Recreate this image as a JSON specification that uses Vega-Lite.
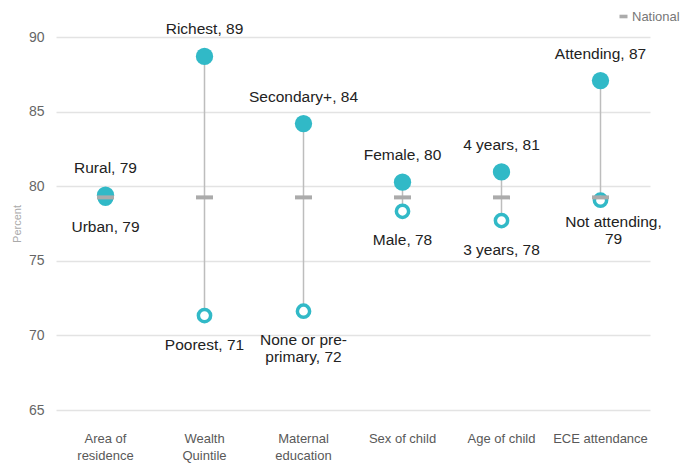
{
  "$schema": "https://vega.github.io/schema/vega-lite/v6.json",
  "width": 594,
  "height": 373,
  "autosize": {"type": "none"},
  "padding": {"left": 56, "top": 37, "right": 46, "bottom": 54},
  "background": "white",
  "config": {
    "view": {"stroke": null},
    "font": "Liberation Sans"
  },
  "datasets": {
    "groups": [
      {"cat": "Area of|residence", "label": "Rural, 79", "value": 79.4, "kind": "high"},
      {"cat": "Area of|residence", "label": "Urban, 79", "value": 79.2, "kind": "low"},
      {"cat": "Wealth|Quintile", "label": "Richest, 89", "value": 88.7, "kind": "high"},
      {"cat": "Wealth|Quintile", "label": "Poorest, 71", "value": 71.33, "kind": "low"},
      {"cat": "Maternal|education", "label": "Secondary+, 84", "value": 84.2, "kind": "high"},
      {"cat": "Maternal|education", "label": "None or pre-\nprimary, 72", "value": 71.62, "kind": "low"},
      {"cat": "Sex of child", "label": "Female, 80", "value": 80.27, "kind": "high"},
      {"cat": "Sex of child", "label": "Male, 78", "value": 78.32, "kind": "low"},
      {"cat": "Age of child", "label": "4 years, 81", "value": 80.96, "kind": "high"},
      {"cat": "Age of child", "label": "3 years, 78", "value": 77.7, "kind": "low"},
      {"cat": "ECE attendance", "label": "Attending, 87", "value": 87.08, "kind": "high"},
      {"cat": "ECE attendance", "label": "Not attending,\n79", "value": 79.06, "kind": "low2"}
    ],
    "national": [
      {"cat": "Area of|residence", "national": 79.25, "series": "National"},
      {"cat": "Wealth|Quintile", "national": 79.25, "series": "National"},
      {"cat": "Maternal|education", "national": 79.25, "series": "National"},
      {"cat": "Sex of child", "national": 79.25, "series": "National"},
      {"cat": "Age of child", "national": 79.25, "series": "National"},
      {"cat": "ECE attendance", "national": 79.25, "series": "National"}
    ]
  },
  "encoding": {
    "x": {
      "field": "cat",
      "type": "nominal",
      "sort": null,
      "scale": {"paddingInner": 0, "paddingOuter": 0},
      "axis": {
        "title": null,
        "labelAngle": 0,
        "domain": false,
        "ticks": false,
        "labelPadding": 22,
        "labelFontSize": 13,
        "labelColor": "#595959",
        "labelLineHeight": 17,
        "labelExpr": "split(datum.value, '|')"
      }
    }
  },
  "layer": [
    {
      "data": {"name": "groups"},
      "transform": [
        {"aggregate": [{"op": "min", "field": "value", "as": "lo"}, {"op": "max", "field": "value", "as": "hi"}], "groupby": ["cat"]}
      ],
      "mark": {"type": "rule", "color": "#bdbdbd", "strokeWidth": 1.5},
      "encoding": {
        "y": {
          "field": "lo",
          "type": "quantitative",
          "scale": {"domain": [65, 90], "nice": false, "zero": false},
          "axis": {
            "title": "Percent",
            "titleFontSize": 11,
            "titleColor": "#aaaaaa",
            "titleFontWeight": "normal",
            "titlePadding": 6,
            "values": [65, 70, 75, 80, 85, 90],
            "domain": false,
            "ticks": false,
            "labelPadding": 12,
            "labelFontSize": 14,
            "labelColor": "#666666",
            "gridColor": "#e3e3e3",
            "gridWidth": 1.5
          }
        },
        "y2": {"field": "hi"}
      }
    },
    {
      "data": {"name": "groups"},
      "transform": [{"filter": "datum.kind != 'high'"}],
      "mark": {"type": "point", "shape": "circle", "filled": false, "fill": "white", "stroke": "#31b9c7", "strokeWidth": 3.5, "size": 150, "opacity": 1},
      "encoding": {"y": {"field": "value", "type": "quantitative"}}
    },
    {
      "data": {"name": "groups"},
      "transform": [{"filter": "datum.kind == 'high'"}],
      "mark": {"type": "circle", "color": "#31b9c7", "size": 300, "opacity": 1},
      "encoding": {"y": {"field": "value", "type": "quantitative"}}
    },
    {
      "data": {"name": "national"},
      "mark": {"type": "tick", "size": 17, "thickness": 4, "opacity": 1},
      "encoding": {
        "y": {"field": "national", "type": "quantitative"},
        "color": {
          "field": "series",
          "type": "nominal",
          "scale": {"domain": ["National"], "range": ["#ababab"]},
          "legend": {
            "title": null,
            "orient": "none",
            "legendX": 561,
            "legendY": -27,
            "padding": 0,
            "symbolType": "M-1,-0.45h2v0.9h-2z",
            "symbolFillColor": "#ababab",
            "symbolStrokeWidth": 0,
            "symbolSize": 64,
            "symbolOpacity": 1,
            "symbolOffset": 0,
            "labelOffset": 2,
            "labelFontSize": 13,
            "labelColor": "#777777"
          }
        }
      }
    },
    {
      "data": {"name": "groups"},
      "transform": [{"filter": "datum.kind == 'high'"}],
      "mark": {"type": "text", "fontSize": 15.5, "color": "#222222", "baseline": "middle", "dy": -27},
      "encoding": {"y": {"field": "value", "type": "quantitative"}, "text": {"field": "label"}}
    },
    {
      "data": {"name": "groups"},
      "transform": [{"filter": "datum.kind == 'low'"}],
      "mark": {"type": "text", "fontSize": 15.5, "color": "#222222", "baseline": "top", "dy": 22, "lineBreak": "\n", "lineHeight": 17},
      "encoding": {"y": {"field": "value", "type": "quantitative"}, "text": {"field": "label"}}
    },
    {
      "data": {"name": "groups"},
      "transform": [{"filter": "datum.kind == 'low2'"}],
      "mark": {"type": "text", "fontSize": 15.5, "color": "#222222", "baseline": "top", "dy": 15, "dx": 13, "lineBreak": "\n", "lineHeight": 17},
      "encoding": {"y": {"field": "value", "type": "quantitative"}, "text": {"field": "label"}}
    }
  ]
}
